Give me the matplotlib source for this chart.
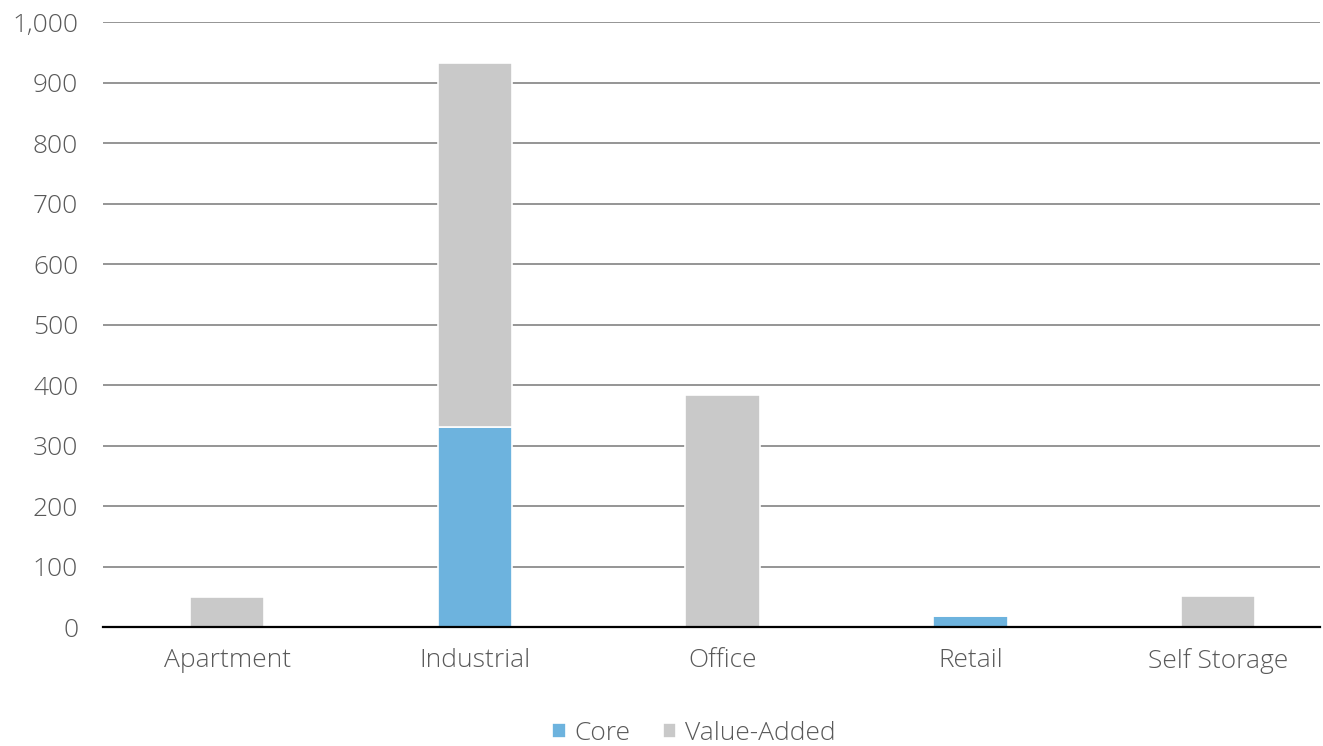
import matplotlib.pyplot as plt
import numpy as np

plt.rcParams['font.family'] = ['Open Sans', 'DejaVu Sans']
plt.rcParams['font.weight'] = 'light'

categories = ['Apartment', 'Industrial', 'Office', 'Retail', 'Self Storage']
core = [0, 330, 0, 18, 0]
value_added = [50, 602, 383, 0, 51]

text_color = '#595959'
core_color = '#6DB3DE'
va_color = '#C9C9C9'

fig = plt.figure(figsize=(13.23, 7.46), dpi=100)
ax = fig.add_axes([0.078, 0.1595, 0.9195, 0.811])

x = np.arange(len(categories))
width = 0.30
ax.bar(x, core, width, color=core_color, edgecolor='white', linewidth=1.2,
       label='Core', zorder=3)
ax.bar(x, value_added, width, bottom=core, color=va_color, edgecolor='white',
       linewidth=1.2, label='Value-Added', zorder=3)

ax.set_xlim(-0.5, 4.41)
ax.set_ylim(0, 1000)
ax.set_yticks(range(0, 1001, 100))
ax.set_yticklabels([f'{v:,}' for v in range(0, 1001, 100)])
ax.set_xticks(x)
ax.set_xticklabels(categories)

ax.grid(axis='y', color='#8C8C8C', linewidth=1.3, zorder=0)
ax.set_axisbelow(True)
for s in ['top', 'right', 'left']:
    ax.spines[s].set_visible(False)
ax.spines['bottom'].set_color('black')
ax.spines['bottom'].set_linewidth(1.6)
ax.spines['bottom'].set_zorder(4)

ax.tick_params(axis='both', length=0, labelsize=19, colors=text_color)
ax.tick_params(axis='y', pad=18)
ax.tick_params(axis='x', pad=15)

handles, labels = ax.get_legend_handles_labels()
fig.legend(handles, labels, loc='center', bbox_to_anchor=(694 / 1323, 1 - 733 / 746),
           ncol=2, frameon=False, fontsize=19, labelcolor=text_color,
           handlelength=0.5, handleheight=0.5, handletextpad=0.35,
           columnspacing=1.2, borderpad=0)

fig.savefig('out.png', dpi=100)
